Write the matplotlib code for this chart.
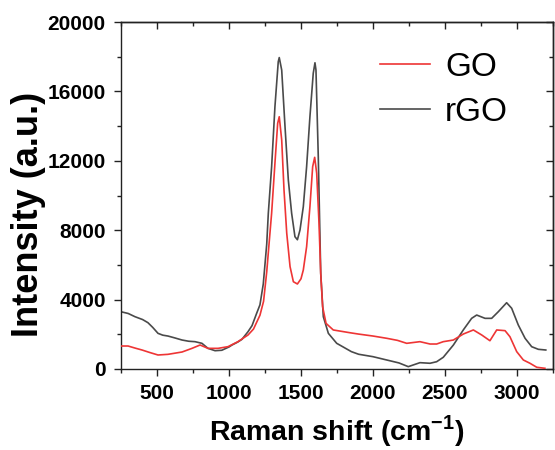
import matplotlib
matplotlib.use("Agg")
import matplotlib.pyplot as plt
from matplotlib.ticker import MultipleLocator

plt.rcParams['font.family'] = ['Liberation Sans', 'DejaVu Sans']
plt.rcParams['mathtext.fontset'] = 'custom'
plt.rcParams['mathtext.rm'] = 'Liberation Sans:bold'
plt.rcParams['mathtext.bf'] = 'Liberation Sans:bold'
plt.rcParams['axes.unicode_minus'] = False

# Raman spectra (shift in cm^-1, intensity in a.u.)
go_shift = [250, 299, 350, 396, 450, 507, 576, 674, 743, 799, 854, 924, 993,
            1062, 1132, 1170, 1215, 1240, 1262, 1280, 1296, 1319, 1338, 1349,
            1366, 1382, 1401, 1424, 1447, 1475, 1500, 1516, 1539, 1562, 1581,
            1595, 1609, 1625, 1637, 1650, 1674, 1724, 1840, 1898, 2000, 2095,
            2170, 2234, 2326, 2396, 2442, 2488, 2558, 2627, 2697, 2755, 2812,
            2859, 2917, 2951, 2998, 3044, 3090, 3137, 3194]
go_intensity = [1325, 1325, 1200, 1095, 950, 807, 845, 980, 1190, 1383, 1190,
                1190, 1287, 1575, 1960, 2300, 3100, 3900, 5600, 7400, 8975,
                11860, 14160, 14540, 13200, 10320, 7820, 5900, 5030, 4900,
                5200, 5705, 7050, 9355, 11660, 12200, 11280, 8400, 5515, 3590,
                2630, 2250, 2090, 2015, 1900, 1770, 1650, 1480, 1575, 1440,
                1440, 1575, 1670, 2015, 2250, 1960, 1630, 2250, 2210, 1860,
                1000, 520, 330, 100, 40]

rgo_shift = [250, 300, 347, 400, 437, 470, 507, 540, 576, 620, 674, 720, 764,
             812, 854, 903, 950, 1000, 1021, 1060, 1090, 1132, 1160, 1192,
             1215, 1238, 1262, 1273, 1296, 1319, 1342, 1349, 1366, 1389, 1412,
             1435, 1458, 1475, 1493, 1516, 1539, 1562, 1585, 1597, 1604, 1620,
             1637, 1655, 1690, 1748, 1850, 1900, 2000, 2095, 2180, 2245, 2326,
             2396, 2442, 2488, 2558, 2627, 2685, 2720, 2778, 2824, 2870, 2928,
             2963, 3009, 3056, 3102, 3148, 3200]
rgo_intensity = [3300, 3200, 3015, 2850, 2670, 2400, 2055, 1950, 1900, 1800,
                 1670, 1600, 1575, 1480, 1190, 1055, 1080, 1270, 1383, 1550,
                 1710, 2150, 2500, 3210, 3700, 4900, 7200, 8975, 11660, 15120,
                 17710, 17950, 17230, 13970, 10890, 8975, 7625, 7450, 8010,
                 9355, 11660, 14540, 17040, 17650, 17230, 12240, 5515, 3015,
                 2055, 1480, 1000, 850, 710, 520, 350, 135, 365, 330, 420, 675,
                 1380, 2250, 2920, 3110, 2920, 2920, 3300, 3820, 3500, 2535,
                 1770, 1285, 1135, 1095]

x_ticks = [500, 1000, 1500, 2000, 2500, 3000]
y_ticks = [0, 4000, 8000, 12000, 16000, 20000]

fig = plt.figure(figsize=(5.55, 4.5), dpi=100)
ax = fig.add_axes([121 / 555, 1 - 369 / 450, (553 - 121) / 555, (369 - 22) / 450])

ax.plot(go_shift, go_intensity, color='#ee3535', lw=1.2, label='GO', zorder=3)
ax.plot(rgo_shift, rgo_intensity, color='#4a4a4a', lw=1.2, label='rGO', zorder=2)

ax.set_xlim(250, 3250)
ax.set_ylim(0, 20000)
ax.set_xticks(x_ticks)
ax.set_yticks(y_ticks)
ax.xaxis.set_minor_locator(MultipleLocator(250))
ax.yaxis.set_minor_locator(MultipleLocator(2000))

for s in ax.spines.values():
    s.set_linewidth(1.0)
    s.set_color('#222222')

ax.tick_params(which='both', direction='out', top=False, right=False,
               width=1.0, color='#222222')
ax.tick_params(which='major', length=5, labelsize=15, pad=6)
ax.tick_params(which='minor', length=3)
for lab in ax.get_xticklabels() + ax.get_yticklabels():
    lab.set_fontweight('bold')

# inward ticks on the top and right edges
ax_top = ax.secondary_xaxis('top')
ax_top.set_xticks(x_ticks)
ax_top.xaxis.set_minor_locator(MultipleLocator(250))
ax_top.tick_params(which='both', direction='in', labeltop=False, width=1.0, color='#222222')
ax_top.tick_params(which='major', length=5)
ax_top.tick_params(which='minor', length=3)
ax_top.spines['top'].set_linewidth(1.0)

ax_right = ax.secondary_yaxis('right')
ax_right.set_yticks(y_ticks)
ax_right.yaxis.set_minor_locator(MultipleLocator(2000))
ax_right.tick_params(which='both', direction='in', labelright=False, width=1.0, color='#222222')
ax_right.tick_params(which='major', length=5)
ax_right.tick_params(which='minor', length=3)
ax_right.spines['right'].set_linewidth(1.0)

ax.set_xlabel('Raman shift (cm$^{-1}$)', fontsize=20.5, fontweight='bold', labelpad=7)
ax.set_ylabel('Intensity (a.u.)', fontsize=26, fontweight='bold')
ax.yaxis.set_label_coords(-0.174, 0.445)

leg = ax.legend(loc='upper left', bbox_to_anchor=(380 / 555, 1 - 52 / 450),
                bbox_transform=fig.transFigure, frameon=False, fontsize=24,
                handlelength=1.5, handletextpad=0.45, labelspacing=0.42,
                borderpad=0, borderaxespad=0)
for h in leg.get_lines():
    h.set_linewidth(1.2)

fig.savefig('out.png', dpi=100)
